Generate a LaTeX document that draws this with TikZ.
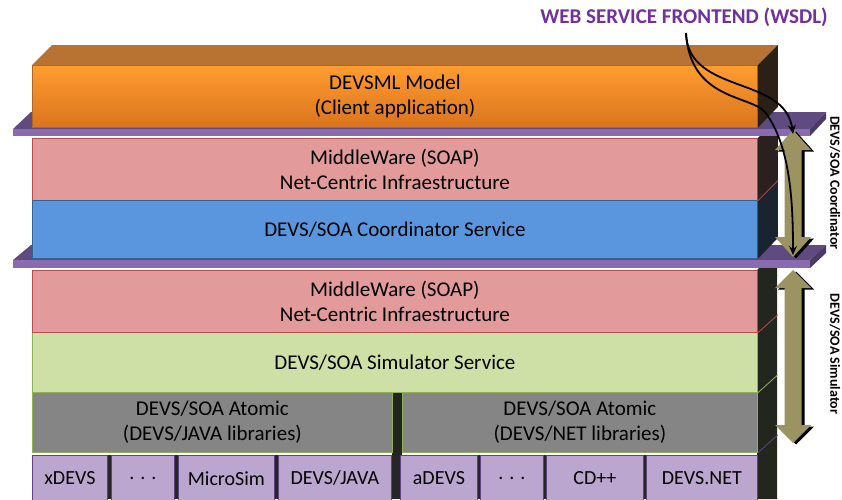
\documentclass[tikz,border=0pt]{standalone}
\usepackage{fontspec}
\setmainfont{Carlito}
\usetikzlibrary{calc,arrows.meta}
\definecolor{orangeT}{HTML}{FF9C30}
\definecolor{orangeBo}{HTML}{DA741E}
\definecolor{orangeB}{HTML}{B7651E}
\definecolor{orangeTop}{HTML}{B87333}
\definecolor{orangeSide}{HTML}{2C2016}
\definecolor{plateTop}{HTML}{5F4B80}
\definecolor{plateFront}{HTML}{8A6BAF}
\definecolor{plateEnd}{HTML}{4A3A66}
\definecolor{pinkF}{HTML}{E29A9A}
\definecolor{pinkB}{HTML}{B84C4C}
\definecolor{pinkSide}{HTML}{2B2020}
\definecolor{blueF}{HTML}{5A96DD}
\definecolor{blueB}{HTML}{36628F}
\definecolor{blueSide}{HTML}{1A2430}
\definecolor{greenF}{HTML}{CEE0A5}
\definecolor{greenB}{HTML}{8FB257}
\definecolor{grayF}{HTML}{858585}
\definecolor{lowSide}{HTML}{23261F}
\definecolor{smallF}{HTML}{BBA6D0}
\definecolor{smallB}{HTML}{5E4580}
\definecolor{oliveF}{HTML}{9B9461}
\definecolor{wsdlC}{HTML}{7030A0}
\newcommand\myDblArrow[4]{%
  \foreach \sx/\sy/\cc in {3/1.5/black, 0/0/oliveF}{%
    \fill[\cc, shift={(\sx,\sy)}] (#1,#2) -- (#1+18,#2+#4) -- (#1+8.5,#2+#4) -- (#1+8.5,#3-#4)
      -- (#1+18,#3-#4) -- (#1,#3) -- (#1-18,#3-#4) -- (#1-8.5,#3-#4) -- (#1-8.5,#2+#4)
      -- (#1-18,#2+#4) -- cycle;}%
}
\begin{document}
\begin{tikzpicture}[x=1pt,y=-1pt,
  layer/.style={draw=#1, line width=0.8pt, anchor=north west, inner sep=0pt, align=center,
    font=\fontsize{21}{25}\selectfont},
  small/.style={draw=smallB, fill=smallF, line width=0.8pt, anchor=north west, inner sep=0pt,
    minimum height=46pt, font=\fontsize{20}{22}\selectfont},
  sidelbl/.style={rotate=-90, font=\bfseries\fontsize{14}{16}\selectfont},
  curve/.style={line width=1.8pt, -{Stealth[length=9pt,width=8pt]}}]
\path[use as bounding box] (0,0) rectangle (842,499);
\clip (0,0) rectangle (842,499);
% ---------- lower stack ----------
\fill[lowSide] (757,270) -- (777,250) -- (777,499) -- (757,499) -- cycle;
\fill[lowSide] (392,392) rectangle (402,455);
\fill[black!85] (32,455) rectangle (757,499);
\node[small, minimum width=75pt]  (xdevs) at (32,455) {xDEVS};
\node[small, minimum width=63pt]  (dotsa) at (111,455) {. . .};
\node[small, minimum width=96pt]  (microsim) at (178,455) {MicroSim};
\node[small, minimum width=113pt] (devsjava) at (278,455) {DEVS/JAVA};
\node[small, minimum width=77pt]  (adevs) at (400,455) {aDEVS};
\node[small, minimum width=63pt]  (dotsb) at (480,455) {. . .};
\node[small, minimum width=97pt]  (cdpp) at (546,455) {CD++};
\node[small, minimum width=111pt] (devsnet) at (646,455) {DEVS.NET};
\node[layer=greenB, fill=grayF, minimum width=360pt, minimum height=60pt] (atomj) at (32,392)
  {DEVS/SOA Atomic\\(DEVS/JAVA libraries)};
\node[layer=greenB, fill=grayF, minimum width=355pt, minimum height=60pt] (atomn) at (402,392)
  {DEVS/SOA Atomic\\(DEVS/NET libraries)};
\node[layer=greenB, fill=greenF, minimum width=725pt, minimum height=60pt] (simsvc) at (32,332)
  {DEVS/SOA Simulator Service};
\node[layer=pinkB, fill=pinkF, minimum width=725pt, minimum height=62pt] (mwb) at (32,270)
  {MiddleWare (SOAP)\\Net-Centric Infraestructure};
\draw[pinkB, line width=0.8pt] (mwb.south east) -- ++(20,-18);
\draw[greenB, line width=0.8pt] (simsvc.south east) -- ++(20,-18);
\draw[smallB, line width=0.8pt] (atomn.south east) -- ++(20,-18);
% ---------- plate 2 ----------
\fill[plateTop] (13,260) -- (31,245) -- (826,245) -- (810,260) -- cycle;
\fill[plateFront] (13,260) rectangle (810,268);
\fill[plateEnd] (810,260) -- (826,245) -- (826,253) -- (810,268) -- cycle;
% ---------- upper stack ----------
\node[layer=pinkB, fill=pinkF, minimum width=725pt, minimum height=62pt] (mwa) at (32,138)
  {MiddleWare (SOAP)\\Net-Centric Infraestructure};
\node[layer=blueB, fill=blueF, minimum width=725pt, minimum height=58pt] (coordsvc) at (32,200)
  {DEVS/SOA Coordinator Service};
\fill[pinkSide] (mwa.north east) -- ++(20,-20) -- ++(0,62) -- (mwa.south east) -- cycle;
\fill[blueSide] (coordsvc.north east) -- ++(20,-20) -- ++(0,58) -- (coordsvc.south east) -- cycle;
\draw[pinkB, line width=0.8pt] (mwa.south east) -- ++(20,-20);
% ---------- plate 1 ----------
\fill[plateTop] (13,129) -- (31,112) -- (826,112) -- (810,129) -- cycle;
\fill[plateFront] (13,129) rectangle (810,136);
\fill[plateEnd] (810,129) -- (826,112) -- (826,119) -- (810,136) -- cycle;
% ---------- top model ----------
\node[layer=orangeB, top color=orangeT, bottom color=orangeBo, minimum width=725pt, minimum height=62pt]
  (model) at (32,65) {DEVSML Model\\(Client application)};
\fill[orangeTop] (model.north west) -- ++(20,-20) -- ($(model.north east)+(20,-20)$) -- (model.north east) -- cycle;
\fill[orangeSide] (model.north east) -- ++(20,-20) -- ++(0,62) -- (model.south east) -- cycle;
% ---------- double arrows ----------
\myDblArrow{793}{130}{257}{20}
\myDblArrow{793}{270}{443}{18}
\node[sidelbl] (coordlbl) at (835,183) {DEVS/SOA Coordinator};
\node[sidelbl] (simlbl) at (835,354) {DEVS/SOA Simulator};
% ---------- WSDL ----------
\node[font=\bfseries\fontsize{21}{23}\selectfont, text=wsdlC, inner sep=0pt] (wsdl) at (684,17)
  {WEB SERVICE FRONTEND (WSDL)};
\coordinate (ws) at (686,33);
\coordinate (tipa) at (793,134);
\coordinate (tipb) at (793,255);
\draw[curve] (ws) .. controls (688,95) and (785,75) .. (tipa);
\draw[curve] (ws) .. controls (690,100) and (750,95) .. (765,112) .. controls (790,145) and (793,200) .. (tipb);
\end{tikzpicture}
\end{document}
